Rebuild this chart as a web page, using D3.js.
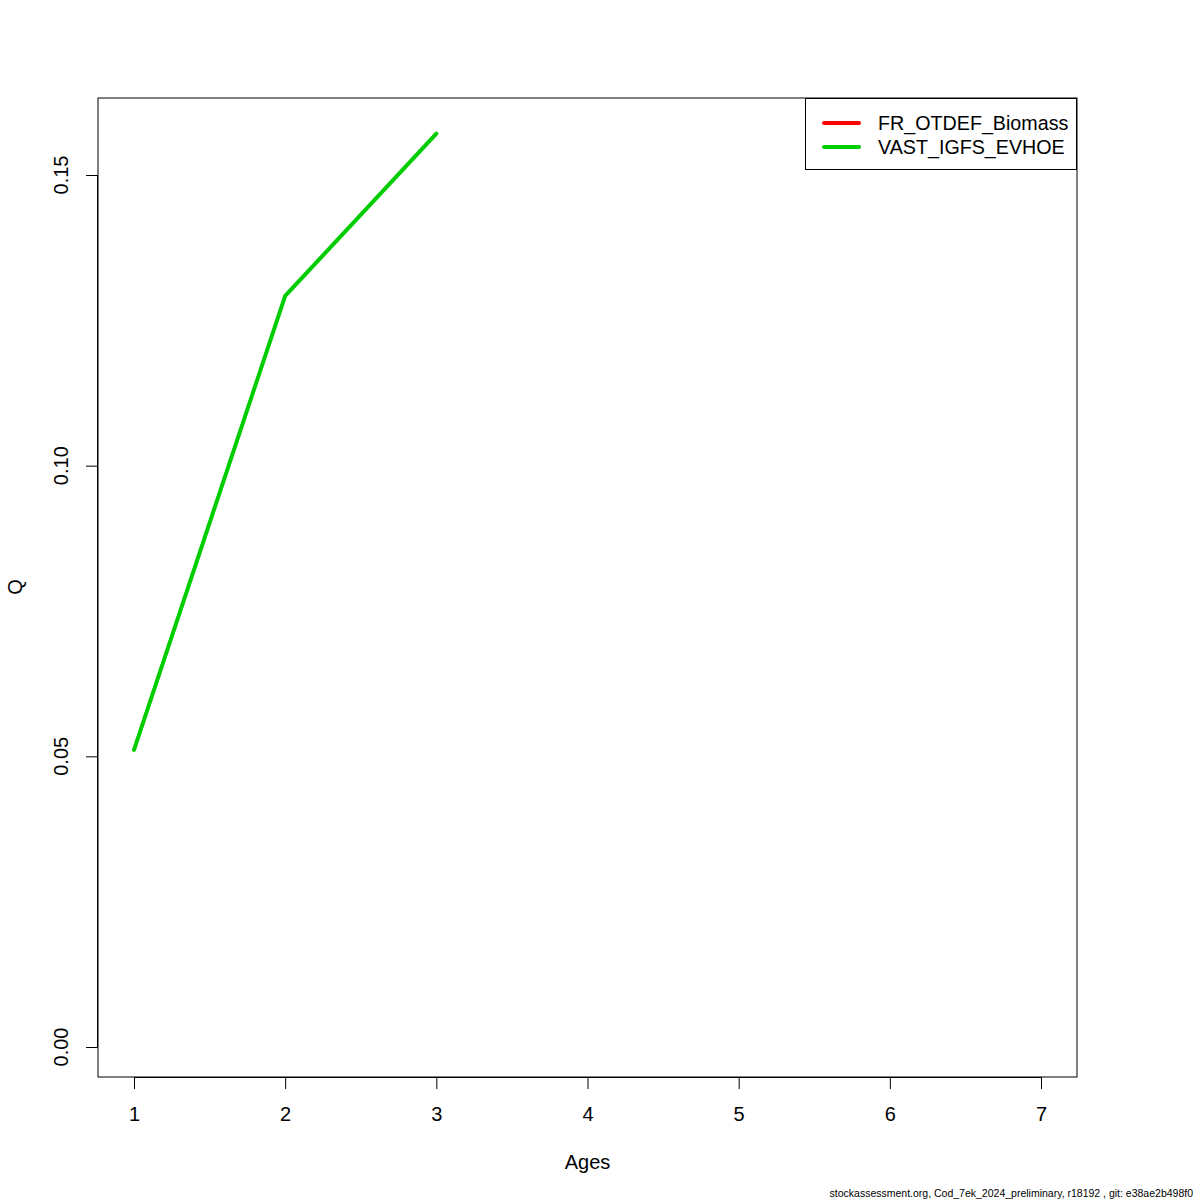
<!DOCTYPE html>
<html><head><meta charset="utf-8">
<script src="https://cdn.jsdelivr.net/npm/d3@7"></script>
<style>body{margin:0;background:#fff}svg{display:block}text{font-family:"Liberation Sans",Arial,sans-serif}</style>
</head><body><svg id="c" width="1200" height="1200"></svg>
<script>
const ages = [1, 2, 3];
const seriesNames = ["FR_OTDEF_Biomass", "VAST_IGFS_EVHOE"];
const seriesColors = ["#ff0000", "#00cd00"];
const vastValues = [0.0511, 0.1292, 0.1571];
const frValues = [];
const xTicks = [1, 2, 3, 4, 5, 6, 7];
const yTicks = [0.00, 0.05, 0.10, 0.15];
const footer = "stockassessment.org, Cod_7ek_2024_preliminary, r18192 , git: e38ae2b498f0";

const svg = d3.select("#c");
const L = 98, R = 1077, T = 98, B = 1077;
const x = d3.scaleLinear().range([L, R]);
const y = d3.scaleLinear().range([B, T]);
y.domain([0 - (B - 1047) / ((1047 - 175) / 0.15), 0 + (1047 - T) / ((1047 - 175) / 0.15)]);
x.domain([1 - (134 - L) / ((1041 - 134) / 6), 1 + (R - 134) / ((1041 - 134) / 6)]);

svg.append("rect").attr("x", L).attr("y", T).attr("width", R - L).attr("height", B - T)
  .attr("fill", "none").attr("stroke", "#000").attr("stroke-width", 1);

const xa = svg.append("g").attr("transform", `translate(0,${B})`)
  .call(d3.axisBottom(x).tickValues(xTicks).tickFormat(d3.format("d")).tickSize(12).tickPadding(18));
xa.select(".domain").attr("d", `M${x(1)},0.5H${x(7)}`);
xa.selectAll("text").attr("font-size", 20).attr("fill", "#000");

const ya = svg.append("g").attr("transform", `translate(${L},0)`)
  .call(d3.axisLeft(y).tickValues(yTicks).tickFormat(d3.format(".2f")).tickSize(12));
ya.select(".domain").attr("d", `M-0.5,${y(0)}V${y(0.15)}`);
ya.selectAll(".tick").attr("transform", "translate(0,0)");
ya.selectAll(".tick line").attr("y1", d => y(d) + 0.5).attr("y2", d => y(d) + 0.5);
ya.selectAll("text").attr("font-size", 20).attr("fill", "#000")
  .attr("text-anchor", "middle").attr("x", 0).attr("y", 0).attr("dy", 0)
  .attr("transform", d => `translate(-35,${y(d)}) rotate(-90)`)
  .attr("dominant-baseline", "middle");

const line = d3.line().x((d, i) => x(ages[i])).y(d => y(d));
svg.append("path").datum(frValues).attr("d", line).attr("fill", "none")
  .attr("stroke", seriesColors[0]).attr("stroke-width", 4);
svg.append("path").datum(vastValues).attr("d", line).attr("fill", "none")
  .attr("stroke", seriesColors[1]).attr("stroke-width", 4).attr("stroke-linecap", "round").attr("stroke-linejoin", "round");

svg.append("text").attr("x", (L + R) / 2).attr("y", 1169).attr("text-anchor", "middle")
  .attr("font-size", 20).text("Ages");
svg.append("text").attr("transform", "translate(22,587) rotate(-90)").attr("text-anchor", "middle")
  .attr("font-size", 20).text("Q");

const lg = svg.append("g");
lg.append("rect").attr("x", 805.5).attr("y", 98.5).attr("width", 271).attr("height", 71)
  .attr("fill", "#fff").attr("stroke", "#000");
seriesNames.forEach((n, i) => {
  const yy = 123 + i * 24;
  lg.append("line").attr("x1", 824).attr("x2", 859).attr("y1", yy).attr("y2", yy)
    .attr("stroke", seriesColors[i]).attr("stroke-width", 4).attr("stroke-linecap", "round");
  lg.append("text").attr("x", 878).attr("y", yy + 7).attr("font-size", 19.7).text(n);
});

svg.append("text").attr("x", 1193).attr("y", 1197).attr("text-anchor", "end")
  .attr("font-size", 10.5).text(footer);
</script></body></html>
